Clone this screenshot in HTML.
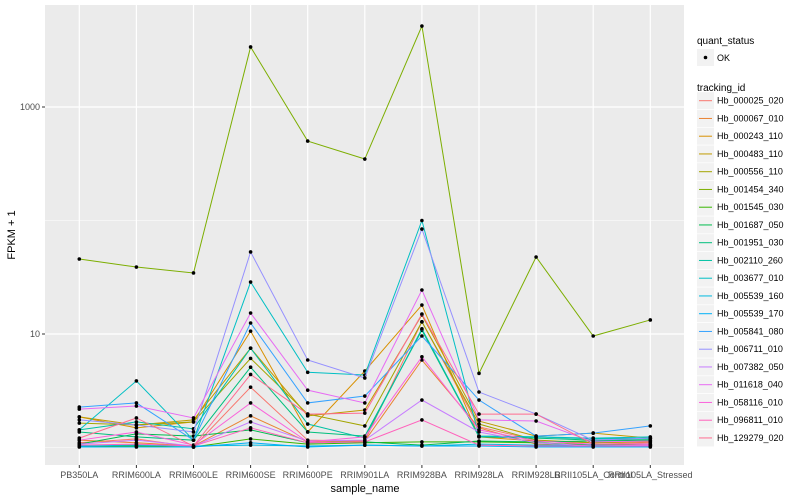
<!DOCTYPE html>
<html><head><meta charset="utf-8"><style>
body{margin:0;background:#fff;}
svg{display:block;font-family:"Liberation Sans",sans-serif;}
</style></head><body>
<svg id="chart" width="800" height="500">
<rect x="45" y="5" width="639" height="460" fill="#ebebeb"/>
<g id="grid"></g><g id="series"></g><g id="axes"></g><g id="legend"></g>
<text x="365" y="492" font-size="11" text-anchor="middle" fill="#000">sample_name</text>
<text transform="translate(15,235) rotate(-90)" font-size="11" text-anchor="middle" fill="#000">FPKM + 1</text>
</svg>
<script>
const categories=["PB350LA","RRIM600LA","RRIM600LE","RRIM600SE","RRIM600PE","RRIM901LA","RRIM928BA","RRIM928LA","RRIM928LB","RRII105LA_Control","RRII105LA_Stressed"];
const seriesNames=["Hb_000025_020","Hb_000067_010","Hb_000243_110","Hb_000483_110","Hb_000556_110","Hb_001454_340","Hb_001545_030","Hb_001687_050","Hb_001951_030","Hb_002110_260","Hb_003677_010","Hb_005539_160","Hb_005539_170","Hb_005841_080","Hb_006711_010","Hb_007382_050","Hb_011618_040","Hb_058116_010","Hb_096811_010","Hb_129279_020"];
const seriesColors=["#F8766D","#EA8331","#D89000","#C09B00","#A3A500","#7CAE00","#39B600","#00BB4E","#00BF7D","#00C1A3","#00BFC4","#00BAE0","#00B0F6","#35A2FF","#9590FF","#C77CFF","#E76BF3","#FA62DB","#FF62BC","#FF6C91"];
const s0=[1.10,1.19,1.01,3.4,1.16,1.14,12.8,1.52,1.16,1.05,1.05];
const s1=[1.16,1.10,1.03,1.90,1.12,1.14,5.9,1.49,1.07,1.03,1.03];
const s2=[1.86,1.49,1.68,10.6,1.37,4.72,18.0,1.24,1.14,1.10,1.12];
const s3=[1.86,1.58,1.75,7.5,1.90,2.14,14.7,1.71,1.26,1.34,1.21];
const s4=[1.64,1.58,1.68,6.1,1.97,1.55,12.8,1.61,1.16,1.10,1.14];
const s5=[45.8,38.9,34.5,3380,501,348,5170,4.5,47.7,9.6,13.3];
const s6=[1.03,1.03,1.01,1.19,1.07,1.10,1.12,1.12,1.10,1.05,1.07];
const s7=[1.07,1.32,1.26,1.43,1.10,1.12,1.05,1.14,1.12,1.14,1.16];
const s8=[1.37,1.24,1.16,5.1,1.37,1.26,10.8,1.24,1.21,1.16,1.19];
const s9=[1.43,1.68,1.46,7.5,1.61,1.21,11.1,1.26,1.24,1.19,1.21];
const s10=[1.43,3.86,1.16,28.7,4.6,4.35,100,1.26,1.24,1.21,1.24];
const s11=[1.03,1.05,1.03,1.05,1.03,1.05,1.03,1.07,1.05,1.05,1.03];
const s12=[1.01,1.01,1.01,1.10,1.01,1.05,1.03,1.03,1.01,1.01,1.01];
const s13=[2.27,2.47,1.16,12.5,2.47,2.84,9.6,2.62,1.26,1.34,1.55];
const s14=[1.75,1.58,1.37,52.8,5.9,4.1,84,3.08,1.97,1.16,1.21];
const s15=[1.07,1.16,1.03,1.68,1.14,1.16,2.62,1.37,1.10,1.03,1.05];
const s16=[2.18,2.32,1.82,15.3,3.2,2.47,24.4,1.75,1.71,1.12,1.14];
const s17=[1.16,1.37,1.05,2.47,1.12,1.24,6.3,1.43,1.14,1.07,1.07];
const s18=[1.05,1.07,1.03,1.49,1.10,1.12,1.75,1.05,1.03,1.03,1.03];
const s19=[1.21,1.82,1.03,4.4,1.97,2.01,15.0,1.97,1.97,1.07,1.10];
const seriesValues=[s0,s1,s2,s3,s4,s5,s6,s7,s8,s9,s10,s11,s12,s13,s14,s15,s16,s17,s18,s19];
const majorTicks=[10,1000];
const minorTicks=[1,100];
const tickLabels=["10","1000"];

const NS="http://www.w3.org/2000/svg";
function xs(i){return 79.3+i*57.1;}
function ys(v){return 334-(Math.log10(v)-1)*113.5;}
function mk(tag,attrs,parent){const e=document.createElementNS(NS,tag);for(const k in attrs)e.setAttribute(k,attrs[k]);parent.appendChild(e);return e;}
const grid=document.getElementById('grid'),ser=document.getElementById('series'),axes=document.getElementById('axes'),leg=document.getElementById('legend');
minorTicks.forEach(v=>{const l=mk('line',{x1:45,x2:684,y1:ys(v),y2:ys(v),stroke:'#fff','stroke-width':0.6},grid);

});
majorTicks.forEach((v,i)=>{const l=mk('line',{x1:45,x2:684,y1:ys(v),y2:ys(v),stroke:'#fff','stroke-width':1.2},grid);


mk('line',{x1:42,x2:45,y1:ys(v),y2:ys(v),stroke:'#333','stroke-width':1},axes);
const t=mk('text',{x:40,y:ys(v)+3,'font-size':9,'text-anchor':'end',fill:'#4d4d4d'},axes);t.textContent=tickLabels[i];

});
categories.forEach((c,i)=>{const l=mk('line',{x1:xs(i),x2:xs(i),y1:5,y2:465,stroke:'#fff','stroke-width':1.2},grid);


mk('line',{x1:xs(i),x2:xs(i),y1:465,y2:468,stroke:'#333','stroke-width':1},axes);
const t=mk('text',{x:xs(i),y:478,'font-size':9,'text-anchor':'middle',fill:'#4d4d4d'},axes);t.textContent=c;

});
seriesValues.forEach((vals,si)=>{const g=mk('g',{},ser);


const p=mk('polyline',{points:vals.map((v,i)=>xs(i)+','+ys(v)).join(' '),fill:'none',stroke:seriesColors[si],'stroke-width':1},g);


vals.forEach((v,i)=>{const c=mk('circle',{cx:xs(i),cy:ys(v),r:1.8,fill:'#000'},g);

});});
// legend
let t=mk('text',{x:697,y:44,'font-size':10,fill:'#000'},leg);t.textContent='quant_status';


mk('rect',{x:697,y:49,width:17,height:17,fill:'#f2f2f2'},leg);
mk('circle',{cx:705.5,cy:57.5,r:1.8,fill:'#000'},leg);
t=mk('text',{x:717,y:61,'font-size':9,fill:'#000'},leg);t.textContent='OK';


t=mk('text',{x:697,y:91,'font-size':10,fill:'#000'},leg);t.textContent='tracking_id';


seriesNames.forEach((n,i)=>{const cy=100.7+i*17.75;const g=mk('g',{},leg);


mk('rect',{x:697,y:cy-8.5,width:17,height:17,fill:'#f2f2f2'},g);
mk('line',{x1:699,x2:712,y1:cy,y2:cy,stroke:seriesColors[i],'stroke-width':1},g);
const tt=mk('text',{x:717,y:cy+3,'font-size':9,fill:'#000'},g);tt.textContent=n;});
</script>
</body></html>
